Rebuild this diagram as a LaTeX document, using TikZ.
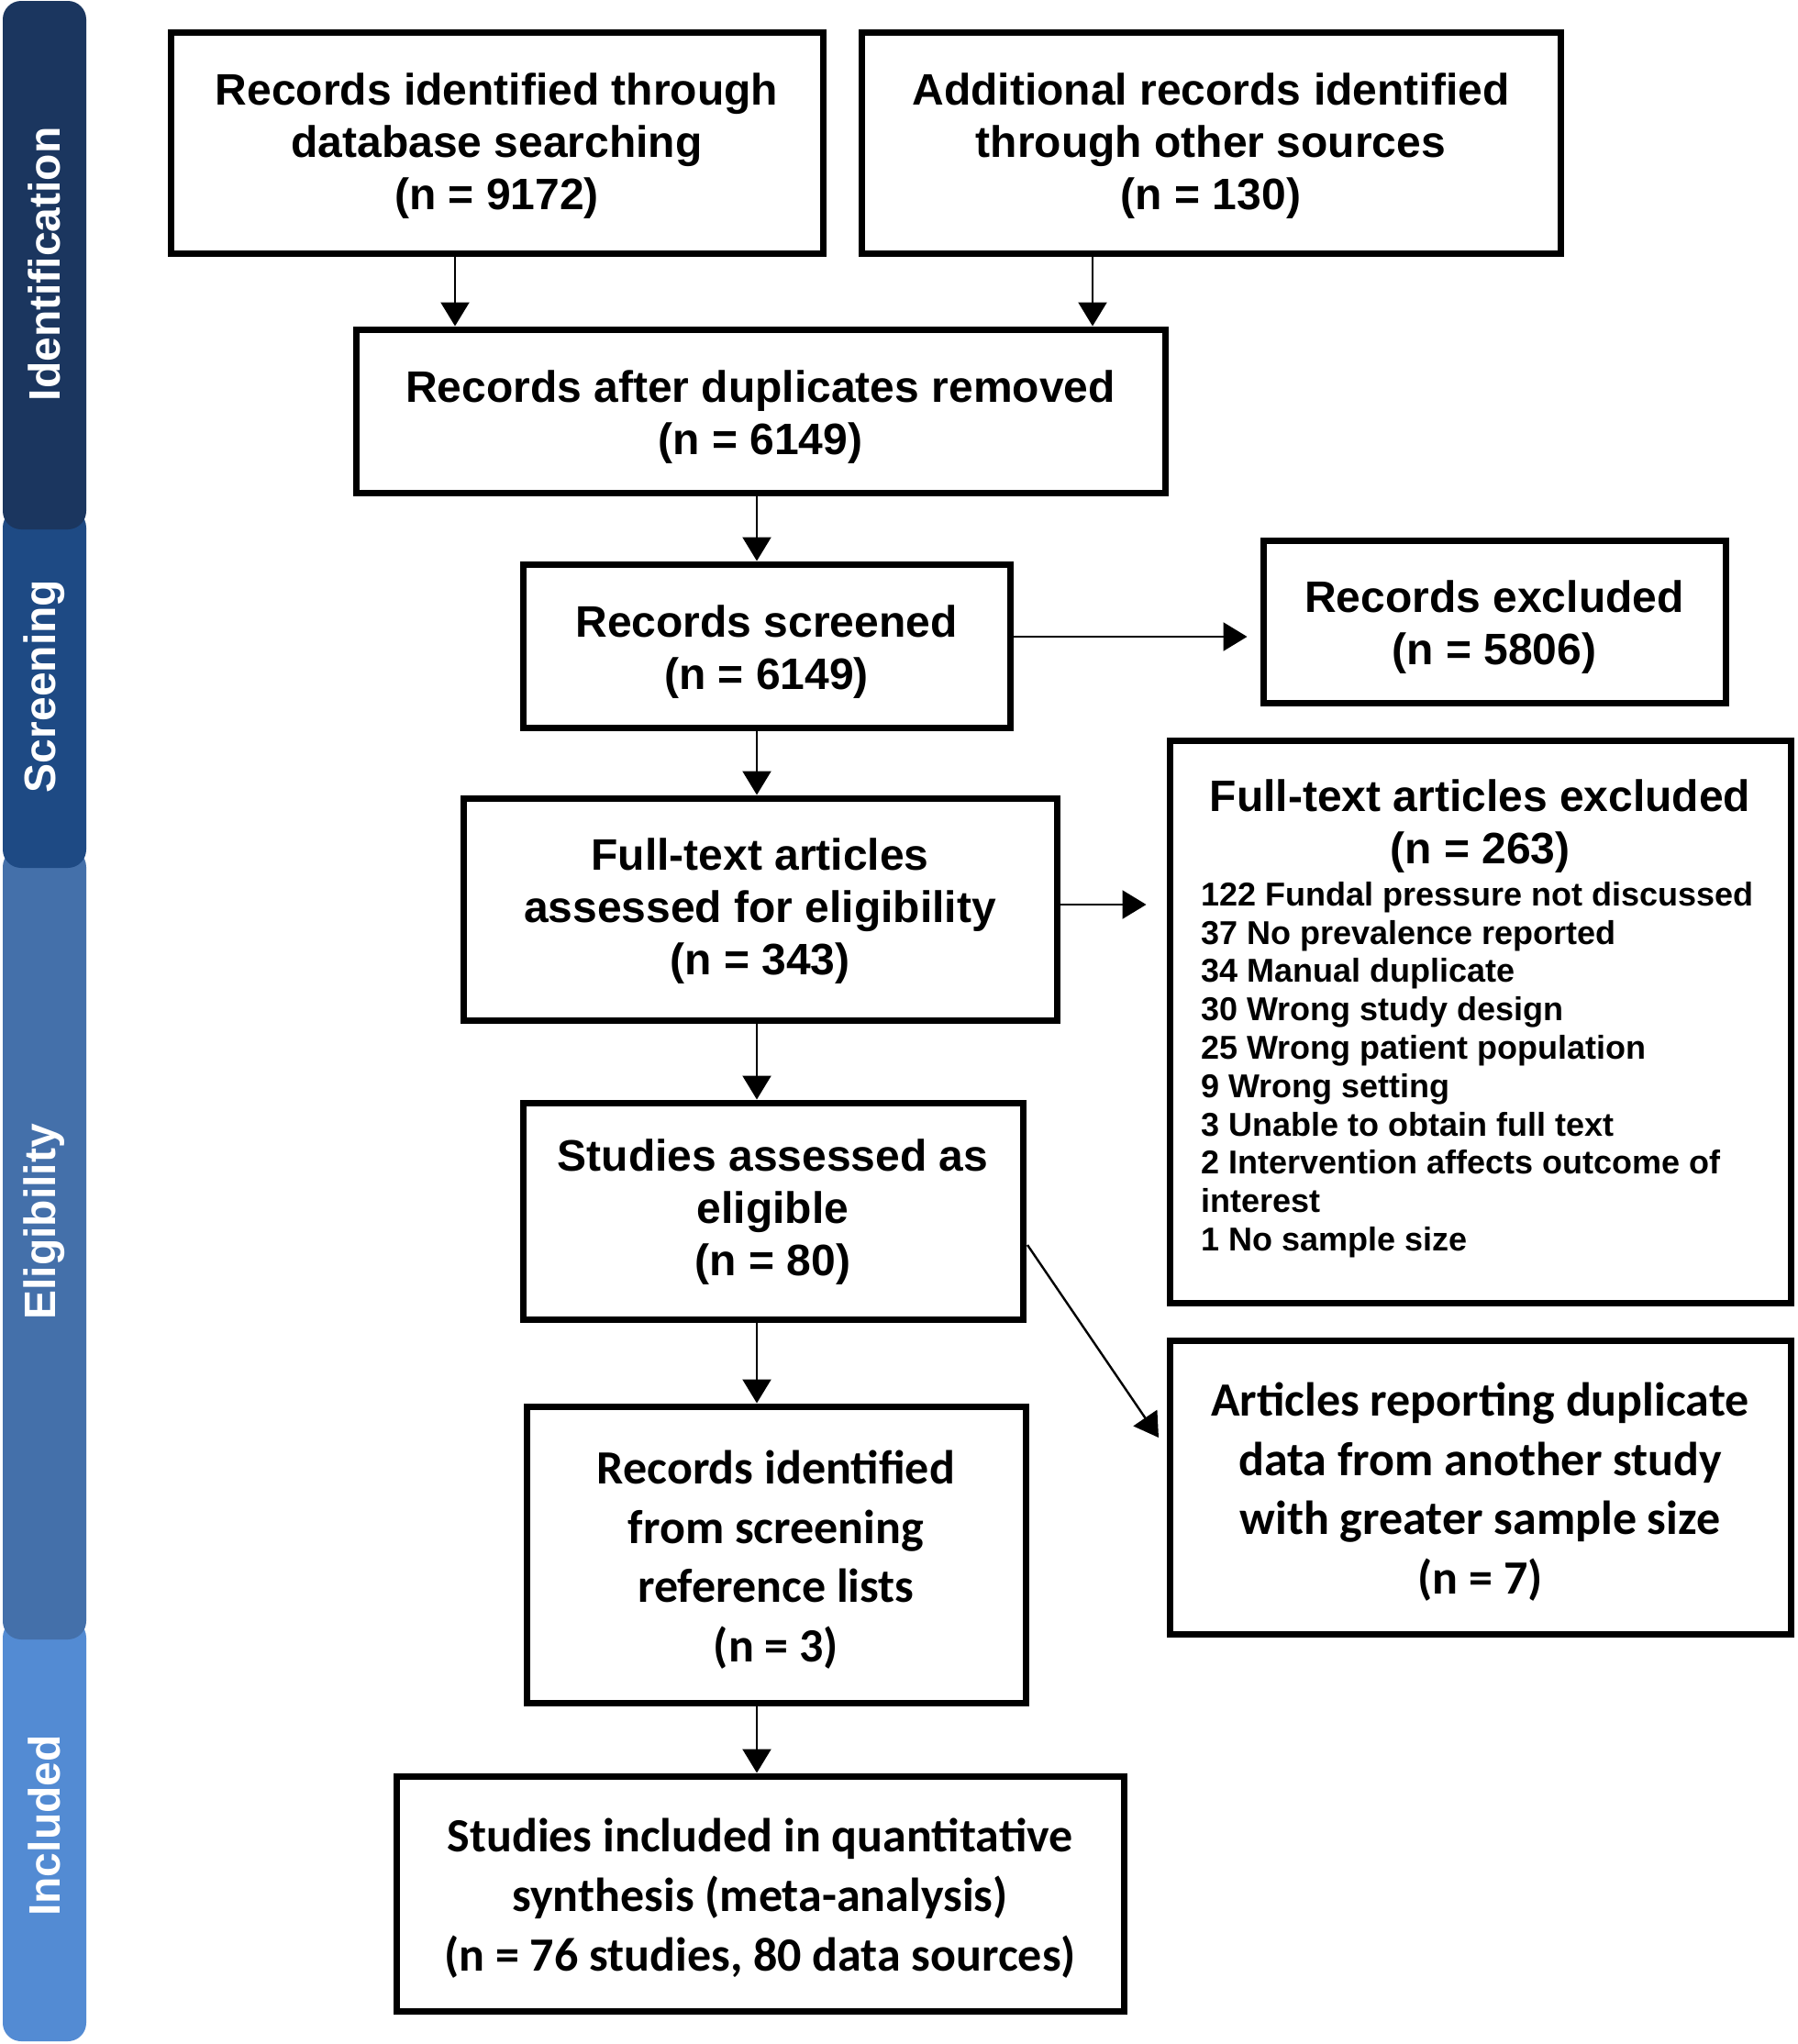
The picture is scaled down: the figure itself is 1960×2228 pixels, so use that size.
\documentclass[tikz,border=0pt]{standalone}
\usepackage{fontspec}
\setmainfont{Liberation Sans}
\newfontfamily\calib{Carlito}
\usetikzlibrary{arrows.meta}
\definecolor{cIdent}{RGB}{27,54,95}
\definecolor{cScreen}{RGB}{30,74,132}
\definecolor{cElig}{RGB}{68,112,170}
\definecolor{cIncl}{RGB}{83,139,211}
\newcommand\myup[1]{\rule{0pt}{#1}}
\begin{document}
\begin{tikzpicture}[x=0.5pt,y=-0.5pt,
  box/.style={draw=black, line width=3.5pt, rectangle, inner sep=0pt, align=center,
    font=\bfseries\fontsize{24}{28.5}\selectfont},
  cbox/.style={box, font=\calib\bfseries\fontsize{26}{32.3}\selectfont},
  arr/.style={-{Triangle[length=13pt,width=15.5pt]}, line width=1.2pt},
  barlabel/.style={rotate=90, text=white, inner sep=0pt, font=\bfseries\fontsize{24}{24}\selectfont}]
\useasboundingbox (0,0) rectangle (1960,2228);
% side bars
\fill[cIncl, rounded corners=10pt] (3,1765) rectangle (94,2225);
\fill[cElig, rounded corners=10pt] (3,925) rectangle (94,1787);
\fill[cScreen, rounded corners=10pt] (3,555) rectangle (94,946);
\fill[cIdent, rounded corners=10pt] (3,1) rectangle (94,577);
\node[barlabel] (lid) at (48,288) {Identification};
\node[barlabel] (lsc) at (48,748) {Screening};
\node[barlabel] (lel) at (48,1332) {Eligibility};
\node[barlabel] (lin) at (48,1990) {Included};
% boxes
\node[box, minimum width=355.5pt, minimum height=120.5pt] (db) at (541.5,155.5)
  {\myup{20.5pt}Records identified through\\database searching\\(n = 9172)};
\node[box, minimum width=381pt, minimum height=120.5pt] (oth) at (1320,155.5)
  {\myup{20.5pt}Additional records identified\\through other sources\\(n = 130)};
\node[box, minimum width=441pt, minimum height=89pt] (dup) at (829,448)
  {\myup{24pt}Records after duplicates removed\\(n = 6149)};
\node[box, minimum width=265.5pt, minimum height=89pt] (scr) at (835.5,704)
  {\myup{23.5pt}Records screened\\(n = 6149)};
\node[box, minimum width=252pt, minimum height=88.5pt] (exc) at (1629,677.5)
  {\myup{23.5pt}Records excluded\\(n = 5806)};
\node[box, minimum width=323.5pt, minimum height=121pt] (ft) at (828.5,991)
  {\myup{19.5pt}Full-text articles\\assessed for eligibility\\(n = 343)};
\node[box, minimum width=338.5pt, minimum height=306.5pt] (ftx) at (1613.5,1113.5) {};
\node[font=\bfseries\fontsize{24}{28.5}\selectfont, align=center, inner sep=0pt] (ftxt) at (1613.5,901)
  {Full-text articles excluded\\(n = 263)};
\node[font=\bfseries\fontsize{18}{20.9}\selectfont, align=left, inner sep=0pt, anchor=west] (ftxl) at (1309,1166)
  {122 Fundal pressure not discussed\\37 No prevalence reported\\34 Manual duplicate\\30 Wrong study design\\25 Wrong patient population\\9 Wrong setting\\3 Unable to obtain full text\\2 Intervention affects outcome of\\interest\\1 No sample size};
\node[box, minimum width=272.5pt, minimum height=118pt] (elig) at (842.5,1320)
  {\myup{18.5pt}Studies assessed as\\eligible\\(n = 80)};
\node[cbox, minimum width=338.5pt, minimum height=160pt] (dupa) at (1613.5,1621)
  {\myup{23.5pt}Articles reporting duplicate\\data from another study\\with greater sample size\\(n = 7)};
\node[cbox, minimum width=272pt, minimum height=161.5pt] (ref) at (846,1694.5)
  {\myup{24pt}Records identified\\from screening\\reference lists\\(n = 3)};
\node[cbox, minimum width=396.5pt, minimum height=128pt] (inc) at (828.5,2064)
  {\myup{23.5pt}Studies included in quantitative\\synthesis (meta-analysis)\\(n = 76 studies, 80 data sources)};
% connectors
\coordinate (c1) at (496,0);
\coordinate (c2) at (1191,0);
\coordinate (c3) at (825,0);
\coordinate (h1) at (0,694);
\coordinate (h2) at (0,986);
\coordinate (d1) at (1120,1357);
\coordinate (d2) at (1263,1567);
\draw[arr] (c1 |- db.south) -- (c1 |- dup.north);
\draw[arr] (c2 |- oth.south) -- (c2 |- dup.north);
\draw[arr] (c3 |- dup.south) -- (c3 |- scr.north);
\draw[arr, shorten >=7pt] (scr.east |- h1) -- (exc.west |- h1);
\draw[arr] (c3 |- scr.south) -- (c3 |- ft.north);
\draw[arr, shorten >=11pt] (ft.east |- h2) -- (ftx.west |- h2);
\draw[arr] (c3 |- ft.south) -- (c3 |- elig.north);
\draw[arr] (d1) -- (d2);
\draw[arr] (c3 |- elig.south) -- (c3 |- ref.north);
\draw[arr] (c3 |- ref.south) -- (c3 |- inc.north);
\end{tikzpicture}
\end{document}
